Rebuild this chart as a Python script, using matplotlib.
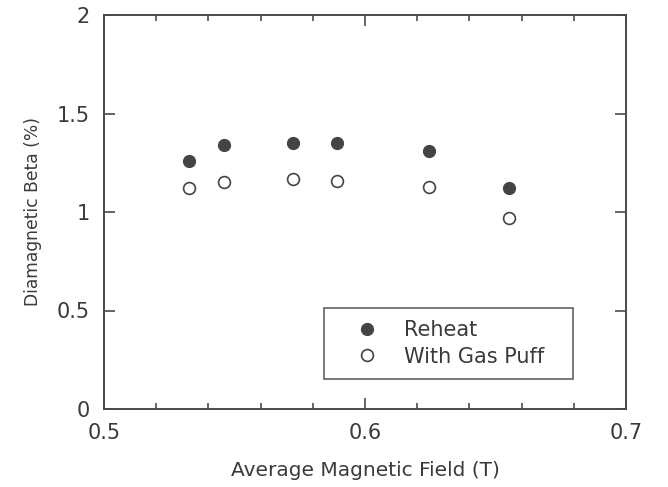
import matplotlib
matplotlib.use("Agg")
import matplotlib.pyplot as plt
from matplotlib.ticker import MultipleLocator

field = [0.5326, 0.546, 0.5725, 0.5893, 0.6245, 0.655]
reheat = [1.26, 1.34, 1.35, 1.35, 1.31, 1.12]
gas_puff = [1.12, 1.15, 1.17, 1.155, 1.125, 0.97]

x_ticks = [0.5, 0.6, 0.7]
x_ticklabels = ['0.5', '0.6', '0.7']
y_ticks = [0, 0.5, 1, 1.5, 2]
y_ticklabels = ['0', '0.5', '1', '1.5', '2']

plt.rcParams['font.family'] = ['DejaVu Sans']
ink = '#3a3a3a'

fig = plt.figure(figsize=(6.68, 4.87), dpi=100)
ax = fig.add_axes([104/668, 78/487, 522/668, 394/487])

ax.plot(field, reheat, 'o', ms=8.5, color='#444444', mec='#444444', label='Reheat')
ax.plot(field, gas_puff, 'o', ms=8.5, mfc='white', mec='#444444', mew=1.2, label='With Gas Puff')

ax.set_xlim(0.5, 0.7)
ax.set_ylim(0, 2)
ax.xaxis.set_minor_locator(MultipleLocator(0.02))
ax.set_xticks(x_ticks)
ax.set_xticklabels(x_ticklabels)
ax.set_yticks(y_ticks)
ax.set_yticklabels(y_ticklabels)

ax.tick_params(which='both', direction='in', top=True, right=True, colors=ink, labelcolor=ink)
ax.tick_params(which='major', length=8, width=1.1, labelsize=15, pad=10)
ax.tick_params(which='minor', length=4.5, width=1.1)
for s in ax.spines.values():
    s.set_color('#4a4a4a')
    s.set_linewidth(1.4)

ax.set_xlabel('Average Magnetic Field (T)', fontsize=14.5, color=ink, labelpad=13)
ax.set_ylabel('Diamagnetic Beta (%)', fontsize=12.3, color=ink, labelpad=11)

leg = ax.legend(loc='lower left', bbox_to_anchor=(0.4215, 0.0761, 0.477, 0.183), mode='expand',
                fontsize=15, frameon=True, fancybox=False, edgecolor='#555555', framealpha=1,
                borderpad=0.6, handletextpad=0.31, labelspacing=0.3, handlelength=2.93,
                borderaxespad=0)
leg.get_frame().set_linewidth(1.1)
for t in leg.get_texts():
    t.set_color(ink)

fig.savefig('out.png', dpi=100)
